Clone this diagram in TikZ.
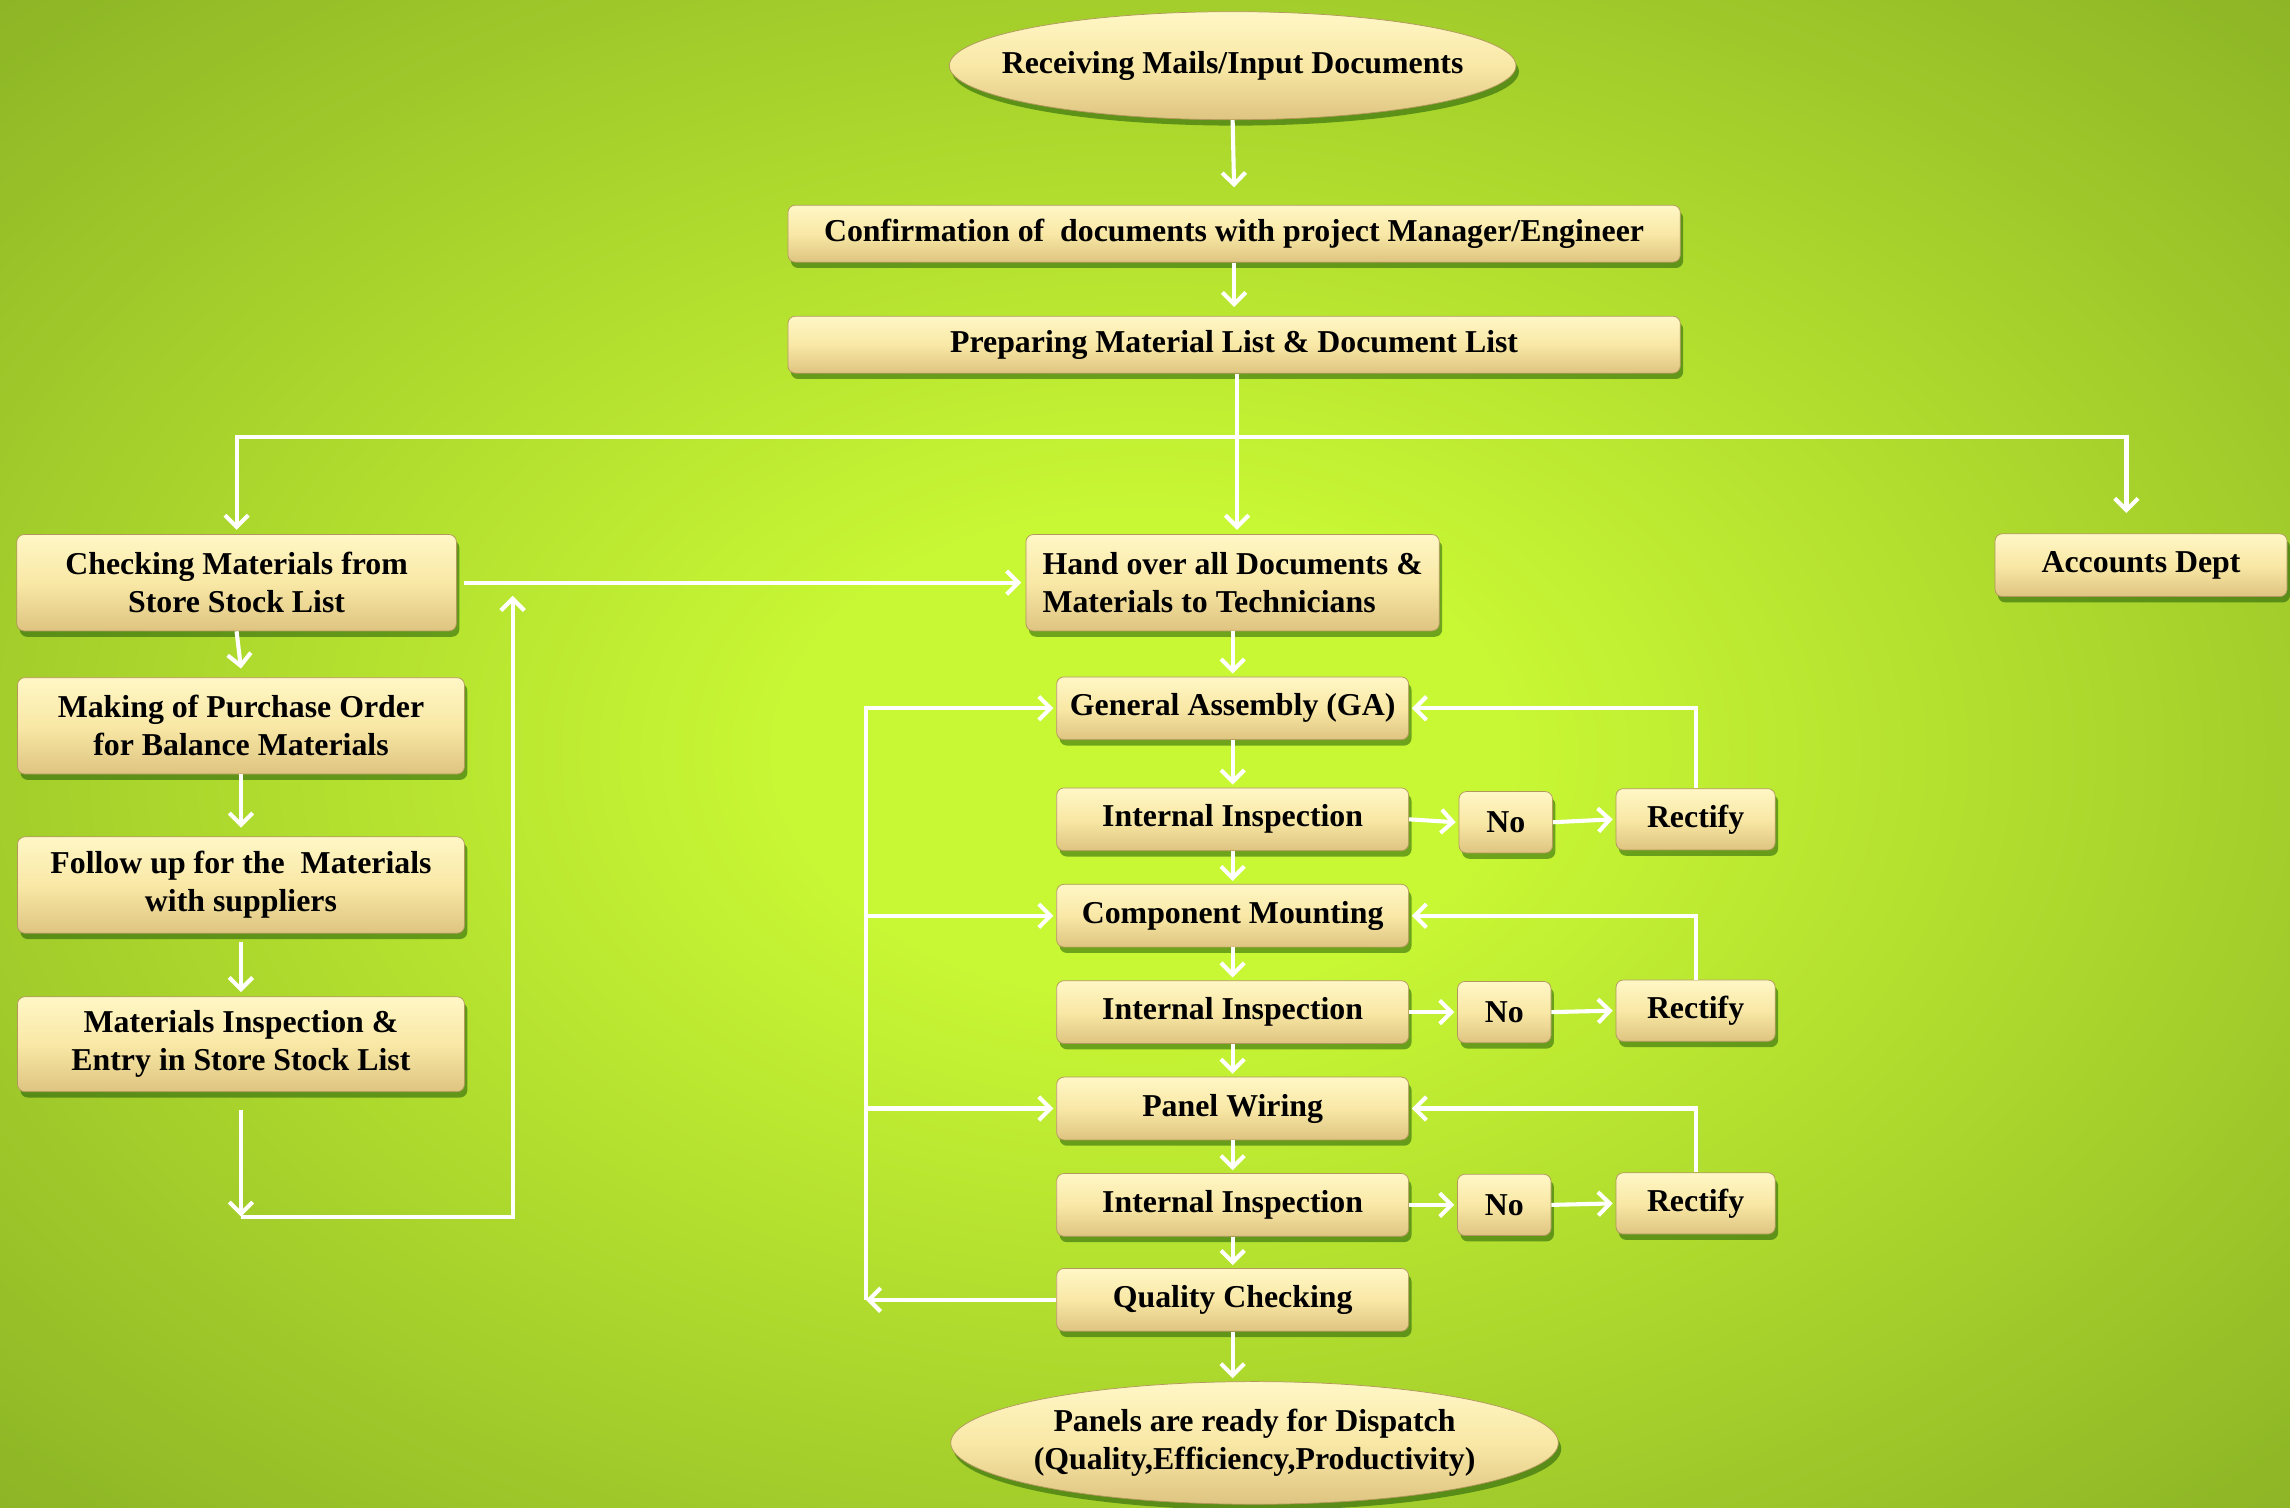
\documentclass[tikz,border=0pt]{standalone}
\usepackage{fontspec}
\setmainfont{Liberation Serif}
\usetikzlibrary{positioning}
\usetikzlibrary{shapes.geometric,shadows}
\usetikzlibrary{arrows.meta}
\definecolor{edgeolive}{RGB}{118,155,32}
\definecolor{glowlime}{RGB}{200,247,52}
\definecolor{boxtop}{RGB}{255,247,198}
\definecolor{boxmid}{RGB}{249,232,166}
\definecolor{boxbot}{RGB}{222,196,128}
\definecolor{boxedge}{RGB}{178,152,92}
\pgfdeclareradialshading{bgglow}{\pgfpoint{0bp}{0bp}}{color(0bp)=(glowlime); color(8bp)=(glowlime); color(46bp)=(edgeolive); color(72bp)=(edgeolive)}
\tikzset{
stepbox/.style={
  draw=boxedge, line width=0.5pt, rounded corners=5pt,
  top color=boxtop, bottom color=boxbot, middle color=boxmid,
  drop shadow={shadow xshift=2pt, shadow yshift=-4pt, opacity=0.45, fill=black!75!green},
  font=\bfseries\fontsize{21.8}{26}\selectfont,
  inner sep=0pt, align=center, minimum height=43pt},
midbox/.style={stepbox, minimum width=241pt},
nobox/.style={stepbox, minimum width=64pt, minimum height=42pt},
fixbox/.style={stepbox, minimum width=109pt, minimum height=42pt},
endcap/.style={stepbox, ellipse, rounded corners=0pt, inner xsep=-25pt},
arrowline/.style={draw=white, line width=2.8pt, -{Straight Barb[length=8pt,width=16pt]}}
}

\begin{document}
\begin{tikzpicture}[x=1pt,y=-1pt]
\useasboundingbox (0,0) rectangle (1568,1032);
\shade[shading=bgglow] (0,0) rectangle (1568,1032);

% top of the flow
\node[endcap, minimum width=388pt, minimum height=74pt] (recv) at (844,45) {Receiving Mails/Input Documents};
\node[stepbox, minimum width=611pt, minimum height=39pt] (conf) at (845,160) {Confirmation of~ documents with project Manager/Engineer};
\node[stepbox, minimum width=611pt, minimum height=39pt] (prep) at (845,236) {Preparing Material List \& Document List};

% store side
\node[stepbox, minimum width=301pt, minimum height=66pt] (check) at (162,399) {Checking Materials from\\Store Stock List};
\node[stepbox, minimum width=306pt, minimum height=66pt] (order) at (165,497) {Making of Purchase Order\\for Balance Materials};
\node[stepbox, minimum width=306pt, minimum height=66pt] (follow) at (165,606) {Follow up for the~ Materials\\with suppliers};
\node[stepbox, minimum width=306pt, minimum height=65pt] (matins) at (165,715) {Materials Inspection \&\\Entry in Store Stock List};

\node[stepbox, minimum width=283pt, minimum height=66pt, align=left] (hand) at (844,399) {Hand over all Documents \&\\Materials to Technicians};
\node[stepbox, minimum width=200pt] (acct) at (1466,387) {Accounts Dept};

% production column
\node[midbox] (ga) at (844,485) {General Assembly (GA)};
\node[midbox] (ins1) at (844,561) {Internal Inspection};
\node[midbox] (cm) at (844,627) {Component Mounting};
\node[midbox] (ins2) at (844,693) {Internal Inspection};
\node[midbox] (pw) at (844,759) {Panel Wiring};
\node[midbox] (ins3) at (844,825) {Internal Inspection};
\node[midbox] (qc) at (844,890) {Quality Checking};
\node[endcap, minimum width=416pt, minimum height=84pt] (done) at (859,988) {Panels are ready for Dispatch\\(Quality,Efficiency,Productivity)};

\node[nobox] (no1) at (1031,563) {No};
\node[nobox] (no2) at (1030,693) {No};
\node[nobox] (no3) at (1030,825) {No};
\node[fixbox] (fix1) at (1161,561) {Rectify};
\node[fixbox] (fix2) at (1161,692) {Rectify};
\node[fixbox] (fix3) at (1161,824) {Rectify};

% connectors
\coordinate (split) at (847,299);
\coordinate (loopbot) at (165,833);
\coordinate (looptop) at (351,408);
\coordinate (bus) at (593,890);

\draw[arrowline] (recv.south) -- ([yshift=12pt]conf.north);
\draw[arrowline] (conf.south) -- ([yshift=6pt]prep.north);
\draw[arrowline] (prep.south -| split) -- ([yshift=3pt]hand.north -| split);
\draw[arrowline] (split) -| ([yshift=3pt]check.north);
\draw[arrowline] (split) -| ([xshift=-10pt,yshift=14pt]acct.north);
\draw[arrowline] ([xshift=5pt]check.east) -- ([xshift=-3pt]hand.west);

\draw[arrowline] (check.south) -- ([yshift=6pt]order.north);
\draw[arrowline] (order.south) -- ([yshift=6pt]follow.north);
\draw[arrowline] ([yshift=-6pt]follow.south) -- ([yshift=3pt]matins.north);
\draw[arrowline] ([yshift=-12pt]matins.south) -- (loopbot);
\draw[arrowline] (loopbot) -| (looptop);

\foreach \a/\b in {hand/ga, ga/ins1, ins1/cm, cm/ins2, ins2/pw, pw/ins3, ins3/qc}
  \draw[arrowline] (\a.south) -- ([yshift=2pt]\b.north);
\draw[arrowline] (qc.south) -- ([yshift=2pt]qc.south |- done.north);

\foreach \i/\t in {1/ga, 2/cm, 3/pw} {
  \draw[arrowline] (ins\i.east) -- ([xshift=-2pt]no\i.west);
  \draw[arrowline] (no\i.east) -- ([xshift=-2pt]fix\i.west);
  \draw[arrowline] (fix\i.north) |- ([xshift=2pt]\t.east);
}

\draw[arrowline] (qc.west) -- (bus);
\draw[arrowline] (bus) |- ([xshift=-2pt]ga.west);
\draw[arrowline] (bus |- cm.west) -- ([xshift=-2pt]cm.west);
\draw[arrowline] (bus |- pw.west) -- ([xshift=-2pt]pw.west);
\end{tikzpicture}
\end{document}
